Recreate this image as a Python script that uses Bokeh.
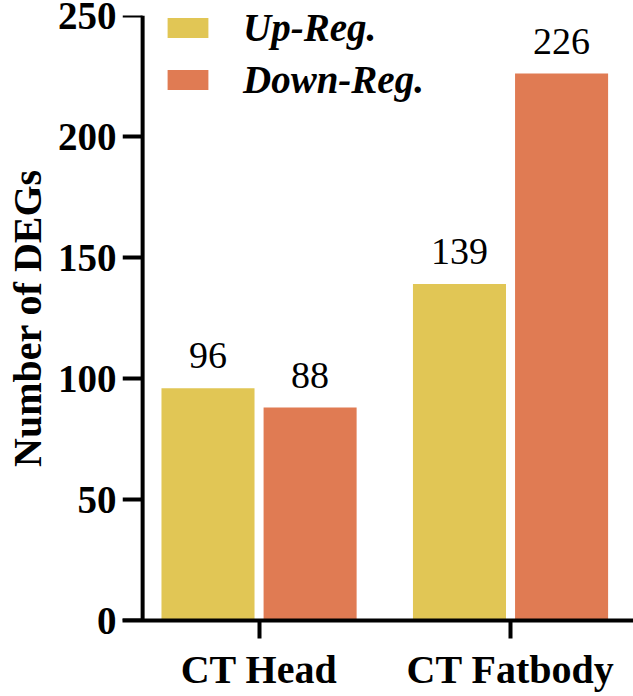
from bokeh.plotting import figure
from bokeh.models import Range1d, FixedTicker, Legend, LegendItem, ColumnDataSource, Span
from bokeh.embed import file_html
from bokeh.resources import INLINE
from bokeh.core.properties import value

# ---- data ----
groups = ["CT Head", "CT Fatbody"]
series = ["Up-Reg.", "Down-Reg."]
up_reg = [96, 139]
down_reg = [88, 226]
colors = ["#E1C655", "#E07B53"]
y_ticks = [0, 50, 100, 150, 200, 250]
y_title = "Number of DEGs"

FONT = "Liberation Serif"
W, H = 633, 696

centers = [i + 1 for i in range(len(groups))]
dodge = 0.203
bar_w = 0.37
x_start, x_end = 0.457, 2.489
y_axis_x = 0.537

p = figure(width=W, height=H, output_backend="svg", toolbar_location=None,
           x_range=Range1d(x_start, x_end), y_range=Range1d(0, 250),
           min_border_left=122, min_border_right=0, min_border_top=15,
           min_border_bottom=76)
p.outline_line_color = None
p.xgrid.visible = False
p.ygrid.visible = False

renderers = []
for vals, off, col in [(up_reg, -dodge, colors[0]), (down_reg, dodge, colors[1])]:
    src = ColumnDataSource(dict(x=[c + off for c in centers], top=vals,
                                label=[str(v) for v in vals]))
    r = p.vbar(x="x", top="top", bottom=0, width=bar_w, source=src,
               fill_color=col, line_color=None)
    renderers.append(r)
    p.text(x="x", y="top", text="label", source=src, text_align="center",
           text_baseline="bottom", y_offset=-20, text_font=value(FONT),
           text_font_size="38px", text_color="#000000")

# y axis offset from the frame edge (Prism style): line + ticks inside frame
p.add_layout(Span(location=y_axis_x, dimension="height", line_color="#000000", line_width=4))
p.segment(x0=[x_start] * len(y_ticks), x1=[y_axis_x] * len(y_ticks),
          y0=y_ticks, y1=y_ticks, line_color="#000000", line_width=4)

ya = p.yaxis[0]
ya.ticker = FixedTicker(ticks=y_ticks)
ya.axis_line_color = None
ya.major_tick_out = 0
ya.major_tick_in = 0
ya.minor_tick_out = 0
ya.minor_tick_in = 0
ya.major_label_text_font = FONT
ya.major_label_text_font_style = "bold"
ya.major_label_text_font_size = "39px"
ya.major_label_text_color = "#000000"
ya.major_label_standoff = 6
ya.axis_label = y_title
ya.axis_label_text_font = FONT
ya.axis_label_text_font_style = "bold"
ya.axis_label_text_font_size = "40px"
ya.axis_label_text_color = "#000000"
ya.axis_label_standoff = 5

xa = p.xaxis[0]
xa.ticker = FixedTicker(ticks=centers)
xa.major_label_overrides = {c: g for c, g in zip(centers, groups)}
xa.major_tick_out = 18
xa.major_tick_in = 0
xa.minor_tick_out = 0
xa.minor_tick_in = 0
xa.axis_line_width = 4
xa.major_tick_line_width = 4
xa.axis_line_color = "#000000"
xa.major_tick_line_color = "#000000"
xa.major_label_text_font = FONT
xa.major_label_text_font_style = "bold"
xa.major_label_text_font_size = "40px"
xa.major_label_text_color = "#000000"
xa.major_label_standoff = 8

legend = Legend(items=[LegendItem(label=series[i], renderers=[renderers[i]]) for i in range(2)],
                location=(40, 518), orientation="vertical",
                glyph_width=51, glyph_height=25, label_standoff=30,
                label_text_font=FONT, label_text_font_style="bold italic",
                label_text_font_size="39px", label_text_color="#000000",
                spacing=7, padding=0, margin=0,
                border_line_color=None, background_fill_alpha=0)
p.add_layout(legend)

open("out.html", "w").write(file_html(p, INLINE))
